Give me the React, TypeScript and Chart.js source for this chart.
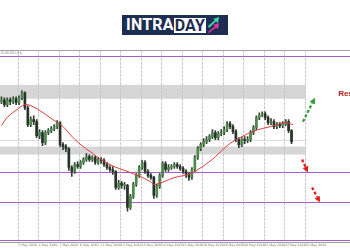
import React, { useEffect, useRef } from "react";
import { Chart, registerables } from "chart.js";
Chart.register(...registerables);

// ---- data (prices) ----
const opens = [1.0896,1.0900,1.0890,1.0900,1.0896,1.0902,1.0894,1.0904,1.0914,1.0884,
  1.0850,1.0860,1.0856,1.0828,1.0834,1.0814,1.0834,1.0838,1.0842,1.0846,
  1.0854,1.0810,1.0806,1.0802,1.0764,1.0756,1.0770,1.0766,1.0774,1.0780,
  1.0786,1.0780,1.0784,1.0774,1.0780,1.0778,1.0770,1.0764,1.0760,1.0756,
  1.0724,1.0732,1.0728,1.0728,1.0684,1.0706,1.0730,1.0748,1.0764,1.0774,
  1.0756,1.0748,1.0744,1.0708,1.0726,1.0748,1.0772,1.0760,1.0764,1.0766,
  1.0770,1.0766,1.0762,1.0756,1.0750,1.0744,1.0760,1.0784,1.0802,1.0810,
  1.0816,1.0820,1.0826,1.0834,1.0824,1.0832,1.0834,1.0840,1.0852,1.0846,
  1.0836,1.0820,1.0810,1.0820,1.0818,1.0820,1.0834,1.0844,1.0864,1.0870,
  1.0872,1.0864,1.0854,1.0856,1.0846,1.0850,1.0848,1.0852,1.0856,1.0838];
const closes = [1.0900,1.0890,1.0900,1.0896,1.0902,1.0894,1.0904,1.0914,1.0884,1.0850,
  1.0860,1.0856,1.0828,1.0834,1.0814,1.0834,1.0838,1.0842,1.0846,1.0854,
  1.0810,1.0806,1.0802,1.0764,1.0756,1.0770,1.0766,1.0774,1.0780,1.0786,
  1.0780,1.0784,1.0774,1.0780,1.0778,1.0770,1.0764,1.0760,1.0756,1.0724,
  1.0732,1.0728,1.0728,1.0684,1.0706,1.0730,1.0748,1.0764,1.0774,1.0756,
  1.0748,1.0744,1.0708,1.0726,1.0748,1.0772,1.0760,1.0764,1.0766,1.0770,
  1.0766,1.0762,1.0756,1.0750,1.0744,1.0760,1.0784,1.0802,1.0810,1.0816,
  1.0820,1.0826,1.0834,1.0824,1.0832,1.0834,1.0840,1.0852,1.0846,1.0836,
  1.0820,1.0810,1.0820,1.0818,1.0820,1.0834,1.0844,1.0864,1.0870,1.0872,
  1.0864,1.0854,1.0856,1.0846,1.0850,1.0848,1.0852,1.0856,1.0838,1.0816];
const highs = [1.0906,1.0904,1.0904,1.0904,1.0906,1.0906,1.0908,1.0918,1.0916,1.0888,
  1.0866,1.0868,1.0860,1.0840,1.0838,1.0838,1.0842,1.0846,1.0850,1.0858,
  1.0856,1.0814,1.0810,1.0804,1.0768,1.0774,1.0776,1.0778,1.0784,1.0792,
  1.0790,1.0788,1.0788,1.0784,1.0784,1.0782,1.0774,1.0768,1.0766,1.0758,
  1.0738,1.0736,1.0734,1.0730,1.0710,1.0734,1.0752,1.0768,1.0778,1.0778,
  1.0760,1.0752,1.0746,1.0730,1.0752,1.0776,1.0776,1.0770,1.0770,1.0774,
  1.0774,1.0770,1.0766,1.0760,1.0754,1.0764,1.0788,1.0806,1.0814,1.0822,
  1.0826,1.0830,1.0840,1.0838,1.0836,1.0840,1.0846,1.0856,1.0856,1.0850,
  1.0840,1.0824,1.0824,1.0826,1.0826,1.0838,1.0848,1.0868,1.0874,1.0876,
  1.0876,1.0868,1.0862,1.0860,1.0854,1.0854,1.0856,1.0860,1.0860,1.0840];
const lows = [1.0892,1.0886,1.0886,1.0890,1.0892,1.0890,1.0890,1.0900,1.0880,1.0846,
  1.0846,1.0850,1.0824,1.0822,1.0808,1.0810,1.0830,1.0834,1.0838,1.0842,
  1.0806,1.0800,1.0796,1.0758,1.0746,1.0752,1.0762,1.0762,1.0770,1.0776,
  1.0776,1.0776,1.0770,1.0770,1.0772,1.0766,1.0760,1.0756,1.0750,1.0720,
  1.0720,1.0722,1.0720,1.0676,1.0680,1.0702,1.0726,1.0744,1.0760,1.0752,
  1.0744,1.0740,1.0702,1.0704,1.0722,1.0744,1.0756,1.0756,1.0760,1.0762,
  1.0762,1.0758,1.0752,1.0744,1.0738,1.0740,1.0756,1.0780,1.0798,1.0806,
  1.0812,1.0816,1.0822,1.0820,1.0820,1.0828,1.0830,1.0836,1.0842,1.0832,
  1.0816,1.0804,1.0806,1.0812,1.0814,1.0816,1.0830,1.0840,1.0860,1.0866,
  1.0860,1.0850,1.0850,1.0842,1.0842,1.0844,1.0844,1.0848,1.0834,1.0812];

// moving average (sampled along its path)
const maX = [0,2.2,5.3,8,10.8,14.2,17.6,21,25.1,30.2,37,43.9,48,50.7,52.4,59.2,63.7,67.1,71.9,76.3,79,82.1,86.5,91.7,96.8,99.5];
const maY = [1.0848,1.0866,1.0880,1.0890,1.0886,1.0874,1.0860,1.0846,1.0820,1.0796,1.0770,1.0754,1.0744,1.0736,1.0730,1.0744,1.0750,1.0760,1.0780,1.0804,1.0816,1.0826,1.0838,1.0846,1.0854,1.0850];

// levels
const purpleLevels = [1.0988, 1.0754, 1.0694, 1.0618];
const greyZones = [[1.0930, 1.0902], [1.0806, 1.0790]];
const gridLevel = 1.0820;
const zoneEnd = 103.75;

// time grid and labels
const gridX = [5.75,12.75,19.75,26.75,33.75,40.75,47.75,54.75,61.75,68.75,75.75,82.75,89.75,96.75,103.75];
const xLabels = ["5 May 2020","6 May 2020","7 May 2020","8 May 2020","11 May 2020","12 May 2020","13 May 2020","14 May 2020","15 May 2020","18 May 2020","19 May 2020","20 May 2020","21 May 2020","22 May 2020","25 May 2020"];

// arrows: [x1, y1, x2, y2]
const greenArrows = [[102.9, 1.0856, 107.0, 1.0904]];
const redArrows = [[102.6, 1.0780, 104.6, 1.0754], [106.0, 1.0724, 108.7, 1.0694]];
const resLabel = { x: 114.9, y: 1.0912, text: "Resistance" };

function drawArrow(ctx: CanvasRenderingContext2D, x1: number, y1: number, x2: number, y2: number, color: string) {
  const ang = Math.atan2(y2 - y1, x2 - x1);
  const head = 6;
  const bx = x2 - Math.cos(ang) * head;
  const by = y2 - Math.sin(ang) * head;
  ctx.save();
  ctx.strokeStyle = color;
  ctx.fillStyle = color;
  ctx.lineWidth = 2.2;
  ctx.setLineDash([3, 2]);
  ctx.beginPath();
  ctx.moveTo(x1, y1);
  ctx.lineTo(bx, by);
  ctx.stroke();
  ctx.setLineDash([]);
  ctx.beginPath();
  ctx.moveTo(x2, y2);
  ctx.lineTo(bx + Math.cos(ang + Math.PI / 2) * 3, by + Math.sin(ang + Math.PI / 2) * 3);
  ctx.lineTo(bx + Math.cos(ang - Math.PI / 2) * 3, by + Math.sin(ang - Math.PI / 2) * 3);
  ctx.closePath();
  ctx.fill();
  ctx.restore();
}

const overlay = {
  id: "overlay",
  beforeDraw(chart: any) {
    const { ctx, chartArea, scales } = chart;
    const x = scales.x, y = scales.y;
    ctx.save();
    ctx.fillStyle = "#ffffff";
    ctx.fillRect(0, 0, chart.width, chart.height);
    const xe = x.getPixelForValue(zoneEnd);
    ctx.fillStyle = "#d6d6d6";
    greyZones.forEach(([a, b]) => {
      const ya = y.getPixelForValue(a), yb = y.getPixelForValue(b);
      ctx.fillRect(chartArea.left, ya, xe - chartArea.left, yb - ya);
    });
    ctx.strokeStyle = "#dcdcdc";
    ctx.lineWidth = 1;
    const gy = Math.round(y.getPixelForValue(gridLevel)) + 0.5;
    ctx.beginPath();
    ctx.moveTo(chartArea.left, gy);
    ctx.lineTo(xe, gy);
    ctx.stroke();
    ctx.restore();
  },
  beforeDatasetsDraw(chart: any) {
    const { ctx, chartArea, scales } = chart;
    const y = scales.y;
    ctx.save();
    ctx.strokeStyle = "#a0a0a0";
    ctx.lineWidth = 1;
    ctx.beginPath();
    ctx.moveTo(0, Math.round(chartArea.top) + 0.5);
    ctx.lineTo(chart.width, Math.round(chartArea.top) + 0.5);
    ctx.moveTo(0, Math.round(chartArea.bottom) + 0.5);
    ctx.lineTo(chart.width, Math.round(chartArea.bottom) + 0.5);
    ctx.stroke();
    ctx.strokeStyle = "#a55fc6";
    purpleLevels.forEach((v) => {
      const py = Math.round(y.getPixelForValue(v)) + 0.5;
      ctx.beginPath();
      ctx.moveTo(0, py);
      ctx.lineTo(chart.width, py);
      ctx.stroke();
    });
    ctx.fillStyle = "#888";
    ctx.font = "3.5px 'DejaVu Sans'";
    ctx.textBaseline = "top";
    ctx.fillText("EURUSD,H4", 1, chartArea.top + 1.5);
    ctx.restore();
  },
  afterDraw(chart: any) {
    const { ctx, scales } = chart;
    const x = scales.x, y = scales.y;
    greenArrows.forEach(([a, b, c, d]) => drawArrow(ctx, x.getPixelForValue(a), y.getPixelForValue(b), x.getPixelForValue(c), y.getPixelForValue(d), "#2f9e3c"));
    redArrows.forEach(([a, b, c, d]) => drawArrow(ctx, x.getPixelForValue(a), y.getPixelForValue(b), x.getPixelForValue(c), y.getPixelForValue(d), "#e21d1d"));
    ctx.save();
    ctx.fillStyle = "#b3191d";
    ctx.font = "bold 8px 'Liberation Sans'";
    ctx.textBaseline = "middle";
    ctx.textAlign = "left";
    ctx.fillText(resLabel.text, x.getPixelForValue(resLabel.x), y.getPixelForValue(resLabel.y));
    ctx.restore();
  },
};

export default function App() {
  const ref = useRef<HTMLCanvasElement>(null);
  useEffect(() => {
    document.body.style.margin = "0";
    const bodyColors = opens.map((o, i) => (closes[i] >= o ? "#4d8a4d" : "#263326"));
    const chart = new Chart(ref.current!, {
      type: "bar",
      data: {
        datasets: [
          {
            type: "line",
            data: maX.map((v, i) => ({ x: v, y: maY[i] })),
            borderColor: "#dd3b3b",
            borderWidth: 1,
            pointRadius: 0,
            tension: 0.4,
            order: 0,
          } as any,
          {
            type: "bar",
            data: opens.map((o, i) => ({ x: i, y: [o, closes[i]] })),
            backgroundColor: bodyColors,
            barThickness: 2,
            grouped: false,
            minBarLength: 1,
            order: 1,
          } as any,
          {
            type: "bar",
            data: lows.map((l, i) => ({ x: i, y: [l, highs[i]] })),
            backgroundColor: "#333d33",
            barThickness: 1,
            grouped: false,
            order: 2,
          } as any,
        ],
      },
      options: {
        animation: false,
        responsive: false,
        devicePixelRatio: 1,
        layout: { padding: { top: 50, bottom: 1, left: 0, right: 0 } },
        plugins: { legend: { display: false }, tooltip: { enabled: false } },
        scales: {
          x: {
            type: "linear",
            min: -0.5,
            max: 118.95,
            offset: false,
            afterBuildTicks: (axis: any) => {
              axis.ticks = gridX.map((v) => ({ value: v }));
            },
            grid: { color: "#c8c8c8", lineWidth: 1, drawTicks: false, offset: false },
            border: { display: false, dash: [3, 1] },
            ticks: {
              autoSkip: false,
              maxRotation: 0,
              align: "start",
              padding: 1.5,
              color: "#777",
              font: { size: 3.2, family: "'DejaVu Sans'" },
              callback: (_v: any, i: number) => xLabels[i] ?? "",
            },
          },
          y: {
            type: "linear",
            display: false,
            min: 1.0614,
            max: 1.1,
          },
        },
      } as any,
      plugins: [overlay],
    });
    return () => chart.destroy();
  }, []);

  return (
    <div style={{ position: "relative", width: 350, height: 250, background: "#fff", overflow: "hidden" }}>
      <canvas ref={ref} width={350} height={250} style={{ position: "absolute", left: 0, top: 0 }} />
      <div
        style={{
          position: "absolute",
          left: 122,
          top: 15,
          width: 106,
          height: 20,
          background: "#1e2d52",
          display: "flex",
          alignItems: "center",
          boxSizing: "border-box",
          paddingLeft: 4,
        }}
      >
        <span style={{ color: "#fff", font: "bold 16px Roboto", lineHeight: "16px", letterSpacing: "0.2px" }}>INTRA</span>
        <span
          style={{
            background: "#fff",
            color: "#1e2d52",
            font: "bold 16px Roboto",
            lineHeight: "15px",
            padding: "0 1px",
            letterSpacing: "0.2px",
          }}
        >
          DAY
        </span>
        <svg width="13" height="16" viewBox="0 0 13 16" style={{ marginLeft: 1 }}>
          <polygon points="1,9 8,3 6,2 12,0 11,6 9,4.5 2,11" fill="#3ed6a6" />
          <polygon points="1,15 8,9 6,8 12,6 11,12 9,10.5 2,16" fill="#e2369f" />
        </svg>
      </div>
    </div>
  );
}
